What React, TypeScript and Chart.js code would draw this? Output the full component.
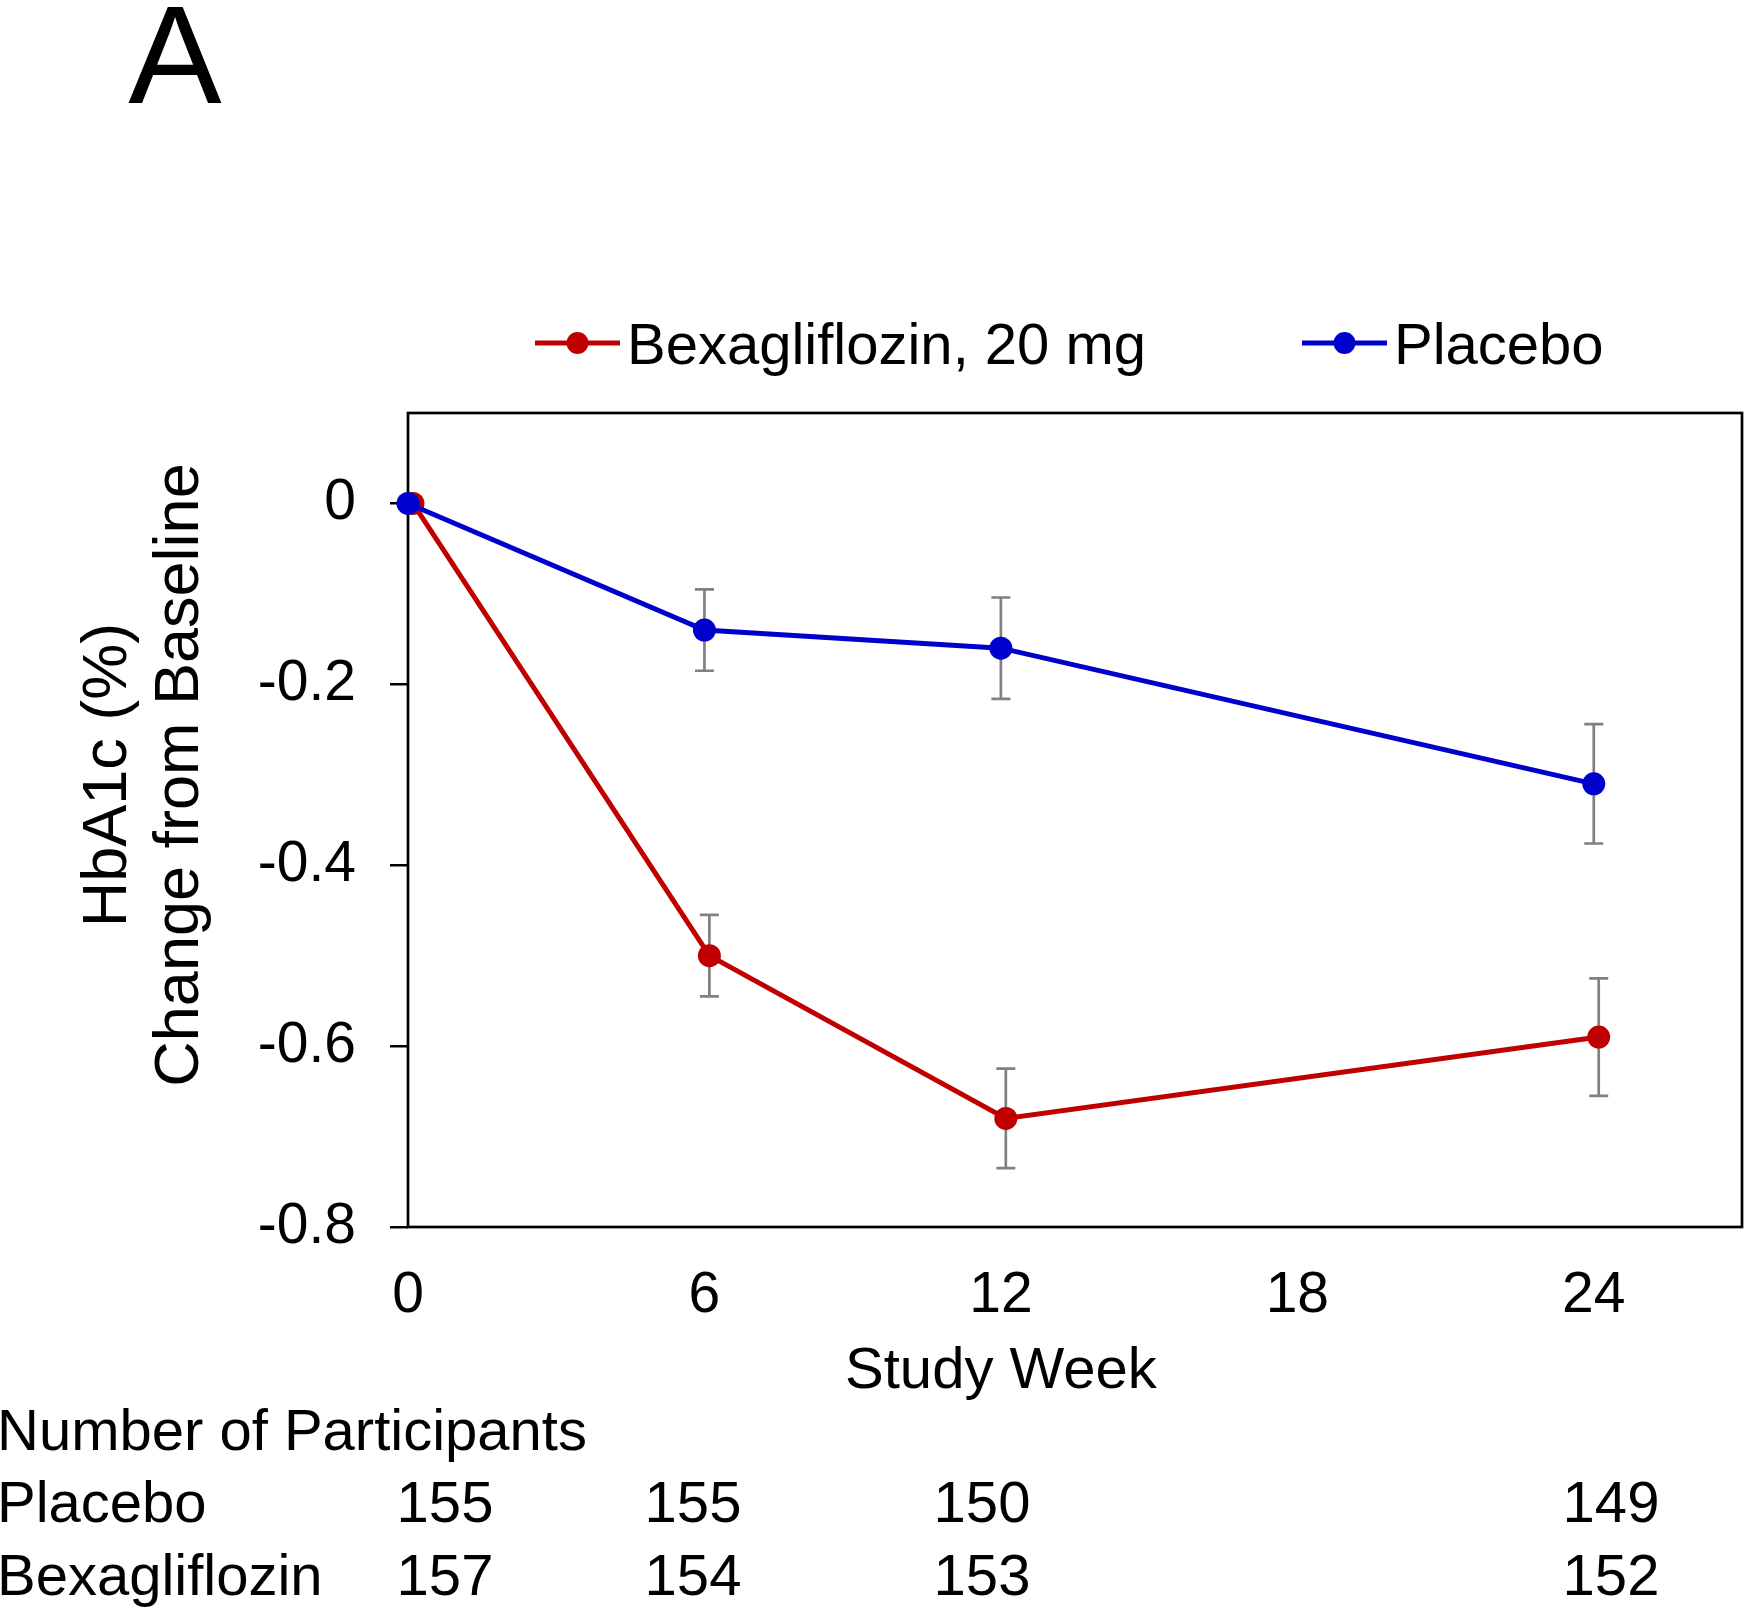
import React, { useEffect, useRef } from "react";
import { Chart, registerables } from "chart.js";

Chart.register(...registerables);

// ---------- data ----------
const WEEKS = [0, 6, 12, 24];
const X_TICKS = [0, 6, 12, 18, 24];
const Y_TICKS = [0, -0.2, -0.4, -0.6, -0.8];

const BEXA_LABEL = "Bexagliflozin, 20 mg";
const BEXA_MEAN = [0, -0.5, -0.68, -0.59];
const BEXA_ERR = [0, 0.045, 0.055, 0.065];

const PLACEBO_LABEL = "Placebo";
const PLACEBO_MEAN = [0, -0.14, -0.16, -0.31];
const PLACEBO_ERR = [0, 0.045, 0.056, 0.066];

const TABLE_TITLE = "Number of Participants";
const TABLE_ROWS = ["Placebo", "Bexagliflozin"];
const PLACEBO_N = ["155", "155", "150", "149"];
const BEXA_N = ["157", "154", "153", "152"];

const PANEL_LABEL = "A";
const X_TITLE = "Study Week";
const Y_TITLE = ["HbA1c (%)", "Change from Baseline"];

// ---------- styles / layout ----------
const W = 1745;
const H = 1607;
const FONT = '"Liberation Sans", Arial, Helvetica, sans-serif';
const RED = "#C00000";
const BLUE = "#0000CC";
const GREY = "#808080";
const BEXA_JITTER = 0.1;
const TABLE_COL_X = [445, 693, 982, 1611];

const decor = {
  id: "decor",
  beforeDatasetsDraw(chart: any) {
    const { ctx, chartArea: a } = chart;
    ctx.save();
    ctx.strokeStyle = "#000";
    ctx.lineWidth = 2.7;
    ctx.strokeRect(a.left, a.top, a.right - a.left, a.bottom - a.top);
    // error bars
    const ys = chart.scales.y;
    chart.data.datasets.forEach((ds: any, di: number) => {
      const meta = chart.getDatasetMeta(di);
      meta.data.forEach((pt: any, i: number) => {
        const e = ds.errors[i];
        if (!e) return;
        const m = ds.means[i];
        const yt = ys.getPixelForValue(m + e);
        const yb = ys.getPixelForValue(m - e);
        const x = pt.x;
        ctx.strokeStyle = GREY;
        ctx.lineWidth = 2.7;
        ctx.beginPath();
        ctx.moveTo(x, yt);
        ctx.lineTo(x, yb);
        ctx.moveTo(x - 9.5, yt);
        ctx.lineTo(x + 9.5, yt);
        ctx.moveTo(x - 9.5, yb);
        ctx.lineTo(x + 9.5, yb);
        ctx.stroke();
      });
    });
    ctx.restore();
  },
  afterDraw(chart: any) {
    const { ctx } = chart;
    const xs = chart.scales.x;
    ctx.save();
    ctx.fillStyle = "#000";
    ctx.textBaseline = "alphabetic";

    // panel label
    ctx.font = `140px ${FONT}`;
    ctx.textAlign = "center";
    ctx.fillText(PANEL_LABEL, 175, 103);

    // legend
    const legendItems = [
      { text: BEXA_LABEL, color: RED, x0: 535 },
      { text: PLACEBO_LABEL, color: BLUE, x0: 1302 },
    ];
    ctx.font = `58px ${FONT}`;
    ctx.textAlign = "left";
    legendItems.forEach((it) => {
      const x1 = it.x0 + 85;
      ctx.strokeStyle = it.color;
      ctx.lineWidth = 5;
      ctx.beginPath();
      ctx.moveTo(it.x0, 343);
      ctx.lineTo(x1, 343);
      ctx.stroke();
      ctx.fillStyle = it.color;
      ctx.beginPath();
      ctx.arc((it.x0 + x1) / 2, 343, 11, 0, Math.PI * 2);
      ctx.fill();
      ctx.fillStyle = "#000";
      ctx.fillText(it.text, x1 + 7, 364);
    });

    // y-axis title (two rotated lines)
    ctx.font = `63px ${FONT}`;
    ctx.textAlign = "center";
    [126, 198].forEach((bx, i) => {
      ctx.save();
      ctx.translate(bx, 775);
      ctx.rotate(-Math.PI / 2);
      ctx.fillText(Y_TITLE[i], 0, 0);
      ctx.restore();
    });

    // x-axis title
    ctx.font = `58px ${FONT}`;
    ctx.textAlign = "center";
    ctx.fillText(X_TITLE, xs.getPixelForValue(12), 1388);

    // participants table
    ctx.textAlign = "left";
    ctx.fillText(TABLE_TITLE, -3, 1450);
    const rowsY = [1522, 1595];
    const rowVals = [PLACEBO_N, BEXA_N];
    TABLE_ROWS.forEach((r, ri) => {
      ctx.textAlign = "left";
      ctx.fillText(r, -3, rowsY[ri]);
      ctx.textAlign = "center";
      rowVals[ri].forEach((v, ci) => {
        ctx.fillText(v, TABLE_COL_X[ci], rowsY[ri]);
      });
    });
    ctx.restore();
  },
};

export default function App() {
  const ref = useRef<HTMLCanvasElement | null>(null);

  useEffect(() => {
    if (!ref.current) return;
    const chart = new Chart(ref.current, {
      type: "line",
      data: {
        datasets: [
          {
            label: BEXA_LABEL,
            data: WEEKS.map((w, i) => ({ x: w + BEXA_JITTER, y: BEXA_MEAN[i] })),
            means: BEXA_MEAN,
            errors: BEXA_ERR,
            borderColor: RED,
            backgroundColor: RED,
            borderWidth: 5,
            pointRadius: 11.5,
            pointHoverRadius: 11.5,
            pointBorderWidth: 0,
            pointBackgroundColor: RED,
            tension: 0,
            clip: false,
            order: 1,
          } as any,
          {
            label: PLACEBO_LABEL,
            data: WEEKS.map((w, i) => ({ x: w, y: PLACEBO_MEAN[i] })),
            means: PLACEBO_MEAN,
            errors: PLACEBO_ERR,
            borderColor: BLUE,
            backgroundColor: BLUE,
            borderWidth: 5,
            pointRadius: 11.5,
            pointHoverRadius: 11.5,
            pointBorderWidth: 0,
            pointBackgroundColor: BLUE,
            tension: 0,
            clip: false,
            order: 0,
          } as any,
        ],
      },
      options: {
        responsive: false,
        maintainAspectRatio: false,
        animation: false,
        devicePixelRatio: 1,
        layout: { autoPadding: false, padding: { top: 413, left: 0, right: 3, bottom: 0 } },
        plugins: {
          legend: { display: false },
          tooltip: { enabled: false },
          title: { display: false },
        },
        scales: {
          x: {
            type: "linear",
            position: "bottom",
            min: 0,
            max: 27,
            afterBuildTicks: (s: any) => {
              s.ticks = X_TICKS.map((v) => ({ value: v }));
            },
            afterFit: (s: any) => {
              s.height = 380;
              s.paddingLeft = 0;
              s.paddingRight = 0;
            },
            grid: { display: false, drawTicks: false },
            border: { display: false },
            ticks: {
              font: { family: FONT, size: 57 },
              color: "#000",
              padding: 35,
              maxRotation: 0,
              autoSkip: false,
              callback: (v: any) => String(v),
            },
          },
          y: {
            type: "linear",
            position: "left",
            min: -0.8,
            max: 0.1,
            afterBuildTicks: (s: any) => {
              s.ticks = Y_TICKS.map((v) => ({ value: v }));
            },
            afterFit: (s: any) => {
              s.width = 408;
              s.paddingTop = 0;
              s.paddingBottom = 0;
            },
            grid: {
              drawOnChartArea: false,
              drawTicks: true,
              tickLength: 18,
              color: "#000",
              lineWidth: 2.5,
            },
            border: { display: false },
            ticks: {
              font: { family: FONT, size: 57 },
              color: "#000",
              padding: 34,
              autoSkip: false,
              callback: (v: any) => (Number(v) === 0 ? "0" : Number(v).toFixed(1)),
            },
          },
        },
      },
      plugins: [decor],
    });
    return () => chart.destroy();
  }, []);

  return (
    <div style={{ position: "absolute", left: 0, top: 0, width: W, height: H, background: "#fff" }}>
      <canvas ref={ref} width={W} height={H} style={{ display: "block" }} />
    </div>
  );
}
